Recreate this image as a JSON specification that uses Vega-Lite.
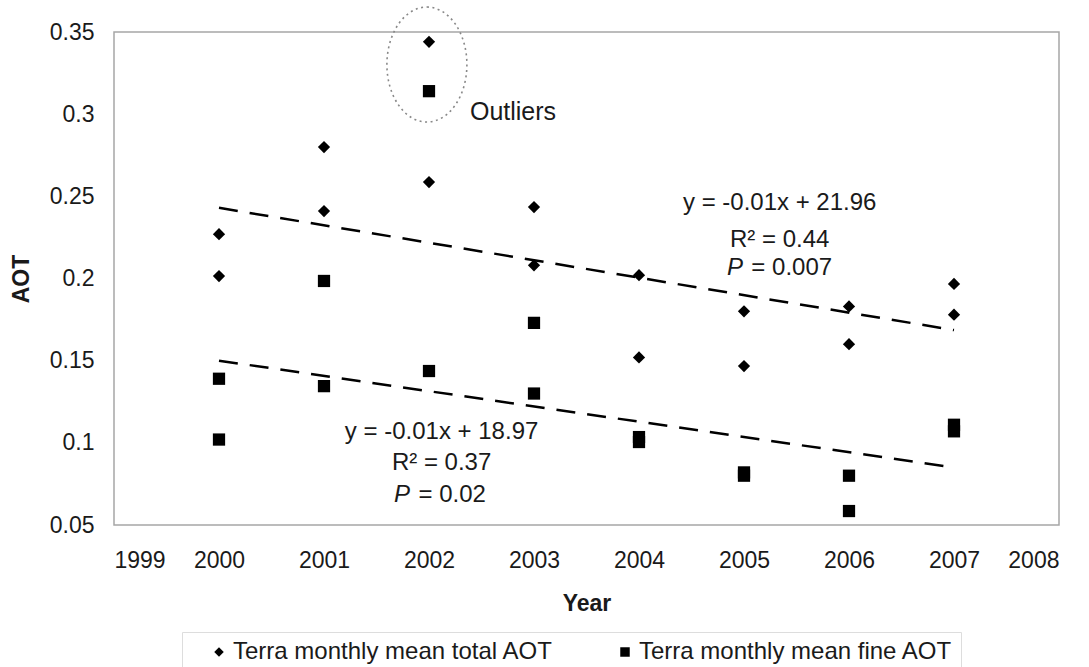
{
  "$schema": "https://vega.github.io/schema/vega-lite/v6.json",
  "width": 945,
  "height": 493,
  "autosize": {"type": "none"},
  "padding": {"left": 114, "top": 32, "right": 30, "bottom": 142},
  "background": "white",
  "config": {
    "font": "Liberation Sans",
    "view": {"stroke": "#a6a6a6", "strokeWidth": 1.5},
    "axis": {"grid": false, "ticks": false, "domain": false, "labelColor": "#1a1a1a", "labelFontSize": 23, "titleFontSize": 23, "titleFontWeight": "bold", "titleColor": "#1a1a1a"}
  },
  "datasets": {
    "points": [
      {"year": 2000, "aot": 0.227, "series": "Terra monthly mean total AOT"},
      {"year": 2000, "aot": 0.2015, "series": "Terra monthly mean total AOT"},
      {"year": 2001, "aot": 0.280, "series": "Terra monthly mean total AOT"},
      {"year": 2001, "aot": 0.241, "series": "Terra monthly mean total AOT"},
      {"year": 2002, "aot": 0.344, "series": "Terra monthly mean total AOT"},
      {"year": 2002, "aot": 0.2587, "series": "Terra monthly mean total AOT"},
      {"year": 2003, "aot": 0.2435, "series": "Terra monthly mean total AOT"},
      {"year": 2003, "aot": 0.208, "series": "Terra monthly mean total AOT"},
      {"year": 2004, "aot": 0.202, "series": "Terra monthly mean total AOT"},
      {"year": 2004, "aot": 0.152, "series": "Terra monthly mean total AOT"},
      {"year": 2005, "aot": 0.180, "series": "Terra monthly mean total AOT"},
      {"year": 2005, "aot": 0.1467, "series": "Terra monthly mean total AOT"},
      {"year": 2006, "aot": 0.183, "series": "Terra monthly mean total AOT"},
      {"year": 2006, "aot": 0.160, "series": "Terra monthly mean total AOT"},
      {"year": 2007, "aot": 0.1967, "series": "Terra monthly mean total AOT"},
      {"year": 2007, "aot": 0.178, "series": "Terra monthly mean total AOT"},
      {"year": 2000, "aot": 0.139, "series": "Terra monthly mean fine AOT"},
      {"year": 2000, "aot": 0.102, "series": "Terra monthly mean fine AOT"},
      {"year": 2001, "aot": 0.1985, "series": "Terra monthly mean fine AOT"},
      {"year": 2001, "aot": 0.1345, "series": "Terra monthly mean fine AOT"},
      {"year": 2002, "aot": 0.314, "series": "Terra monthly mean fine AOT"},
      {"year": 2002, "aot": 0.1437, "series": "Terra monthly mean fine AOT"},
      {"year": 2003, "aot": 0.173, "series": "Terra monthly mean fine AOT"},
      {"year": 2003, "aot": 0.130, "series": "Terra monthly mean fine AOT"},
      {"year": 2004, "aot": 0.1035, "series": "Terra monthly mean fine AOT"},
      {"year": 2004, "aot": 0.1005, "series": "Terra monthly mean fine AOT"},
      {"year": 2005, "aot": 0.082, "series": "Terra monthly mean fine AOT"},
      {"year": 2005, "aot": 0.080, "series": "Terra monthly mean fine AOT"},
      {"year": 2006, "aot": 0.080, "series": "Terra monthly mean fine AOT"},
      {"year": 2006, "aot": 0.0585, "series": "Terra monthly mean fine AOT"},
      {"year": 2007, "aot": 0.111, "series": "Terra monthly mean fine AOT"},
      {"year": 2007, "aot": 0.107, "series": "Terra monthly mean fine AOT"}
    ],
    "trend": [
      {"year": 2000, "aot": 0.243, "group": "total"},
      {"year": 2007, "aot": 0.1686, "group": "total"},
      {"year": 2000, "aot": 0.150, "group": "fine"},
      {"year": 2007, "aot": 0.085, "group": "fine"}
    ],
    "outlier_ring": [
      {"year": 2001.98, "aot": 0.3302}
    ],
    "centered": [
      {"year": 2005.34, "aot": 0.2459, "text": "y = -0.01x + 21.96"},
      {"year": 2005.34, "aot": 0.2234, "text": "R² = 0.44"},
      {"year": 2002.12, "aot": 0.1065, "text": "y = -0.01x + 18.97"},
      {"year": 2002.12, "aot": 0.0877, "text": "R² = 0.37"}
    ],
    "pletter": [
      {"year": 2004.99, "aot": 0.2064, "text": "P"},
      {"year": 2001.82, "aot": 0.0682, "text": "P"}
    ],
    "pvalue": [
      {"year": 2005.07, "aot": 0.2064, "text": "= 0.007"},
      {"year": 2001.90, "aot": 0.0682, "text": "= 0.02"}
    ],
    "note": [
      {"year": 2002.39, "aot": 0.3013, "text": "Outliers"}
    ]
  },
  "encoding": {
    "x": {
      "field": "year", "type": "quantitative",
      "scale": {"domain": [1999, 2008], "nice": false, "zero": false},
      "axis": {"values": [1999, 2000, 2001, 2002, 2003, 2004, 2005, 2006, 2007, 2008], "format": "d", "title": "Year", "labelPadding": 24, "titlePadding": 20}
    },
    "y": {
      "field": "aot", "type": "quantitative",
      "scale": {"domain": [0.05, 0.35], "nice": false, "zero": false},
      "axis": {"values": [0.05, 0.1, 0.15, 0.2, 0.25, 0.3, 0.35], "format": ".2~f", "title": "AOT", "labelPadding": 20, "titlePadding": 16}
    }
  },
  "layer": [
    {
      "data": {"name": "trend"},
      "mark": {"type": "line", "color": "black", "strokeWidth": 2.5, "strokeDash": [19, 12]},
      "encoding": {"detail": {"field": "group", "type": "nominal"}}
    },
    {
      "data": {"name": "points"},
      "mark": {"type": "point", "filled": true, "opacity": 1, "size": 150},
      "encoding": {
        "color": {"value": "black"},
        "shape": {
          "field": "series", "type": "nominal",
          "scale": {"domain": ["Terra monthly mean total AOT", "Terra monthly mean fine AOT"], "range": ["diamond", "square"]},
          "legend": {
            "title": null, "orient": "none", "legendX": 68, "legendY": 600, "direction": "horizontal",
            "labelFontSize": 24, "labelColor": "#1a1a1a", "symbolSize": 90, "symbolFillColor": "black", "symbolStrokeWidth": 0,
            "strokeColor": "#dddddd", "padding": 8, "symbolOffset": 17, "columnPadding": 42, "labelOffset": 2, "labelLimit": 500
          }
        }
      }
    },
    {
      "data": {"name": "outlier_ring"},
      "mark": {"type": "point", "filled": false, "shape": "M0,-1.4375 A1,1.4375 0 1,1 0,1.4375 A1,1.4375 0 1,1 0,-1.4375 Z", "size": 6400, "stroke": "#888888", "strokeWidth": 1.6, "strokeDash": [2, 3.5], "opacity": 1},
      "encoding": {}
    },
    {
      "data": {"name": "centered"},
      "mark": {"type": "text", "align": "center", "baseline": "middle", "fontSize": 24, "color": "#1a1a1a"},
      "encoding": {"text": {"field": "text"}}
    },
    {
      "data": {"name": "pletter"},
      "mark": {"type": "text", "align": "right", "baseline": "middle", "fontSize": 24, "fontStyle": "italic", "color": "#1a1a1a"},
      "encoding": {"text": {"field": "text"}}
    },
    {
      "data": {"name": "pvalue"},
      "mark": {"type": "text", "align": "left", "baseline": "middle", "fontSize": 24, "color": "#1a1a1a"},
      "encoding": {"text": {"field": "text"}}
    },
    {
      "data": {"name": "note"},
      "mark": {"type": "text", "align": "left", "baseline": "middle", "fontSize": 25, "color": "#1a1a1a"},
      "encoding": {"text": {"field": "text"}}
    }
  ]
}
